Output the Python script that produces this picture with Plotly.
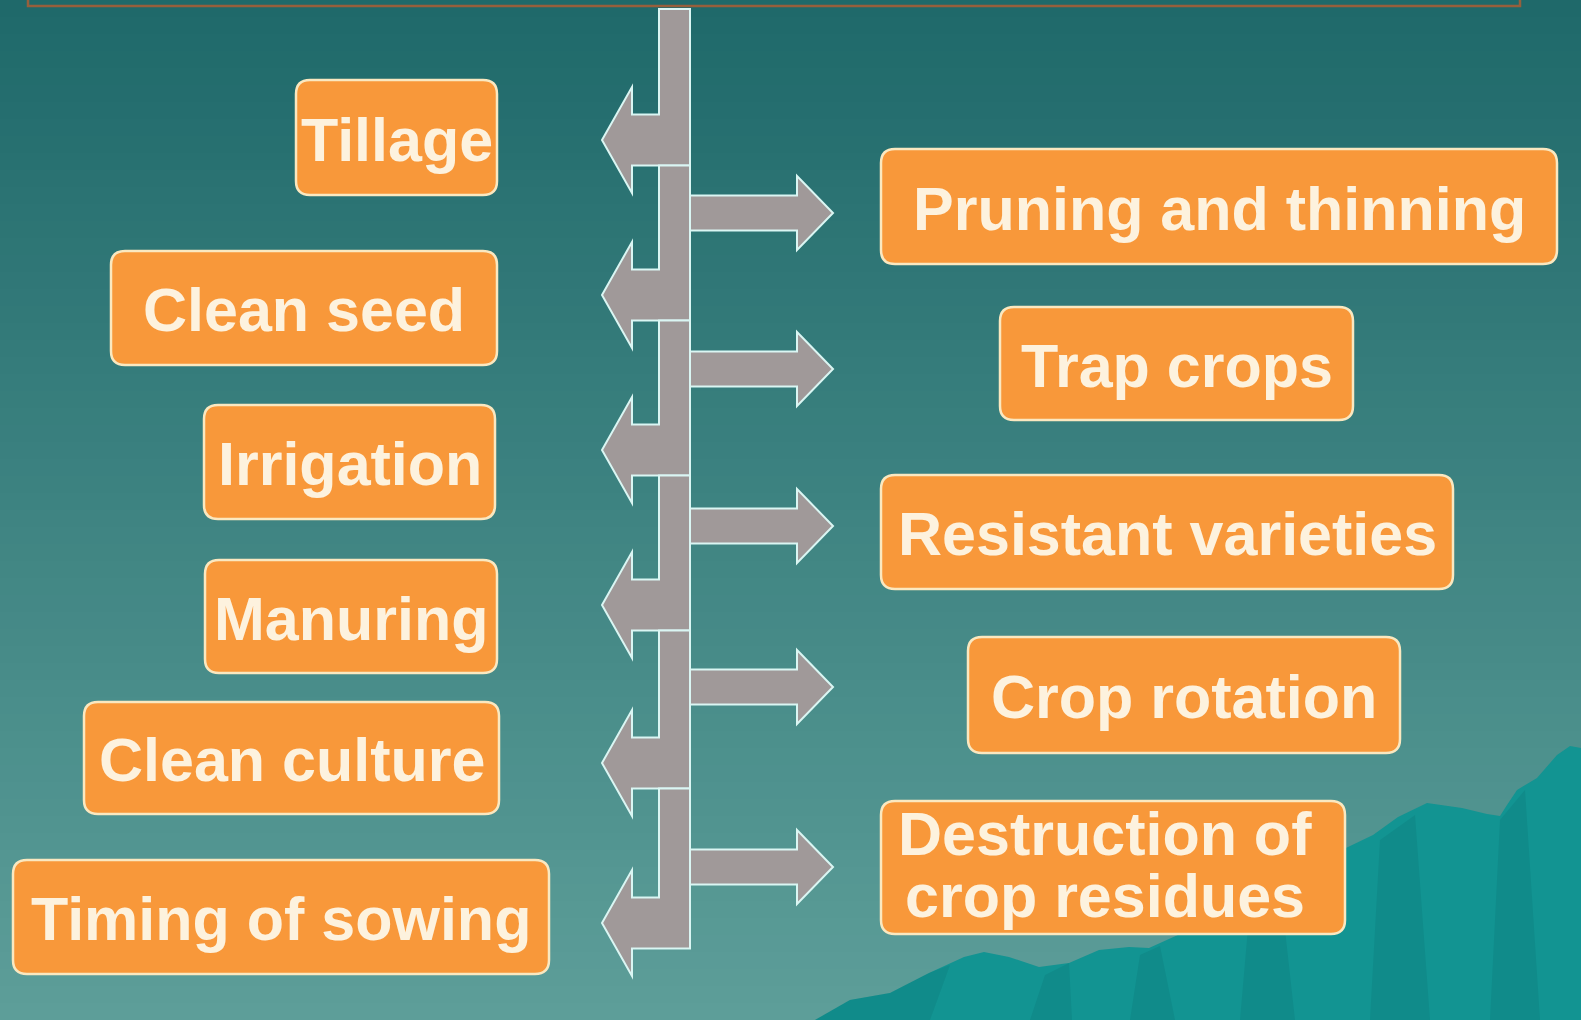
import plotly.graph_objects as go

# ---------------- data ----------------
left_labels = ["Tillage", "Clean seed", "Irrigation", "Manuring", "Clean culture", "Timing of sowing"]
right_labels = ["Pruning and thinning", "Trap crops", "Resistant varieties", "Crop rotation",
                "Destruction of\ncrop residues"]

# ---------------- layout geometry (pixel space) ----------------
W, H = 1581, 1020
left_boxes = [(296, 497, 80, 195), (111, 497, 251, 365), (204, 495, 405, 519),
              (205, 497, 560, 673), (84, 499, 702, 814), (13, 549, 860, 974)]
right_boxes = [(881, 1557, 149, 264), (1000, 1353, 307, 420), (881, 1453, 475, 589),
               (968, 1400, 637, 753), (881, 1345, 801, 934)]
left_tips = [140, 295, 450, 605, 763, 923]
right_tips = [213, 369, 526, 687, 867]

SPINE_X0, SPINE_X1, SPINE_TOP = 659, 690, 9
L_SHAFT, L_HEAD, L_HEAD_X, L_TIP_X = 25.5, 53, 632, 602
R_SHAFT, R_HEAD, R_HEAD_X, R_TIP_X = 17.5, 37, 797, 833

ARROW_FILL = "rgb(160,153,153)"
ARROW_LINE = "rgb(218,246,243)"
BOX_FILL = "rgb(248,152,58)"
BOX_LINE = "rgb(250,232,192)"
TEXT_COLOR = "rgb(253,242,222)"
FONT = "Liberation Sans, Arial, sans-serif"
FSIZE = 61

shapes = []

# background gradient bands
top_c = (31, 105, 106)
bot_c = (93, 158, 153)
n = 60
for i in range(n):
    t = i / (n - 1)
    c = tuple(int(round(top_c[k] + (bot_c[k] - top_c[k]) * t)) for k in range(3))
    shapes.append(dict(type="rect", xref="x", yref="y", x0=0, x1=W,
                       y0=H * i / n, y1=H * (i + 1) / n + 1,
                       fillcolor=f"rgb{c}", line=dict(width=0), layer="below"))

# top title-box edge
shapes.append(dict(type="path", xref="x", yref="y",
                   path="M 28,0 L 28,6 L 1520,6 L 1520,0",
                   line=dict(color="rgb(150,95,60)", width=2.5)))

# mountains
ridge = [(815, 1020), (850, 1000), (890, 993), (929, 973), (964, 957), (984, 952), (1009, 957),
         (1039, 967), (1069, 963), (1099, 950), (1129, 947), (1149, 948), (1200, 925),
         (1250, 895), (1300, 868), (1348, 847), (1373, 835), (1398, 817), (1427, 803),
         (1462, 808), (1487, 814), (1500, 816), (1507, 805), (1517, 790), (1537, 778),
         (1557, 755), (1570, 746), (1581, 748), (1581, 1020)]
p = "M " + " L ".join(f"{x},{y}" for x, y in ridge) + " Z"
shapes.append(dict(type="path", xref="x", yref="y", path=p,
                   fillcolor="rgb(18,148,146)", line=dict(width=0)))
# subtle darker streaks on mountains
streaks = [
    [(815, 1020), (850, 1000), (890, 993), (929, 973), (950, 965), (930, 1020)],
    [(1030, 1020), (1045, 975), (1069, 963), (1072, 1020)],
    [(1130, 1020), (1140, 955), (1160, 946), (1175, 1020)],
    [(1240, 1020), (1250, 905), (1280, 885), (1295, 1020)],
    [(1370, 1020), (1380, 840), (1415, 815), (1430, 1020)],
    [(1490, 1020), (1500, 820), (1525, 790), (1540, 1020)],
]
for s in streaks:
    p = "M " + " L ".join(f"{x},{y}" for x, y in s) + " Z"
    shapes.append(dict(type="path", xref="x", yref="y", path=p,
                       fillcolor="rgba(8,110,110,0.22)", line=dict(width=0)))

# spine with left-pointing bent arrows
prev = SPINE_TOP
for ty in left_tips:
    sb = ty + L_SHAFT
    st = ty - L_SHAFT
    pts = [(SPINE_X0, prev), (SPINE_X1, prev), (SPINE_X1, sb), (L_HEAD_X, sb),
           (L_HEAD_X, ty + L_HEAD), (L_TIP_X, ty), (L_HEAD_X, ty - L_HEAD),
           (L_HEAD_X, st), (SPINE_X0, st)]
    p = "M " + " L ".join(f"{x},{y}" for x, y in pts) + " Z"
    shapes.append(dict(type="path", xref="x", yref="y", path=p,
                       fillcolor=ARROW_FILL, line=dict(color=ARROW_LINE, width=2)))
    prev = sb

# right-pointing arrows
for ty in right_tips:
    pts = [(SPINE_X1, ty - R_SHAFT), (R_HEAD_X, ty - R_SHAFT), (R_HEAD_X, ty - R_HEAD),
           (R_TIP_X, ty), (R_HEAD_X, ty + R_HEAD), (R_HEAD_X, ty + R_SHAFT),
           (SPINE_X1, ty + R_SHAFT)]
    p = "M " + " L ".join(f"{x},{y}" for x, y in pts) + " Z"
    shapes.append(dict(type="path", xref="x", yref="y", path=p,
                       fillcolor=ARROW_FILL, line=dict(color=ARROW_LINE, width=2)))


def rrect(x0, x1, y0, y1, r=14):
    return (f"M {x0 + r},{y0} L {x1 - r},{y0} Q {x1},{y0} {x1},{y0 + r} "
            f"L {x1},{y1 - r} Q {x1},{y1} {x1 - r},{y1} L {x0 + r},{y1} "
            f"Q {x0},{y1} {x0},{y1 - r} L {x0},{y0 + r} Q {x0},{y0} {x0 + r},{y0} Z")


annotations = []
for labels, boxes in ((left_labels, left_boxes), (right_labels, right_boxes)):
    for lab, (x0, x1, y0, y1) in zip(labels, boxes):
        shapes.append(dict(type="path", xref="x", yref="y", path=rrect(x0, x1, y0, y1),
                           fillcolor=BOX_FILL, line=dict(color=BOX_LINE, width=2.5)))
        lines = lab.split("\n")
        cy = (y0 + y1) / 2
        cx = (x0 + x1) / 2
        step = 62
        multi = len(lines) > 1
        for k, ln in enumerate(lines):
            yy = cy + (k - (len(lines) - 1) / 2) * step
            annotations.append(dict(x=cx - (8 if multi else 0), y=yy + (-3 if multi else 2),
                                    xref="x", yref="y", text=ln, showarrow=False,
                                    xanchor="center", yanchor="middle",
                                    font=dict(family=FONT, size=FSIZE, color=TEXT_COLOR,
                                              weight="bold")))

fig = go.Figure()
fig.add_trace(go.Scatter(x=[0, W], y=[0, H], mode="markers", marker=dict(opacity=0),
                         hoverinfo="skip", showlegend=False))
fig.update_layout(
    width=W, height=H, margin=dict(l=0, r=0, t=0, b=0),
    paper_bgcolor="rgb(60,130,128)", plot_bgcolor="rgba(0,0,0,0)",
    xaxis=dict(range=[0, W], visible=False, fixedrange=True),
    yaxis=dict(range=[H, 0], visible=False, fixedrange=True),
    shapes=shapes, annotations=annotations, showlegend=False,
)
fig.write_html("out.html", config={"displayModeBar": False},
               post_script="document.body.style.margin='0';document.body.style.overflow='hidden';")
